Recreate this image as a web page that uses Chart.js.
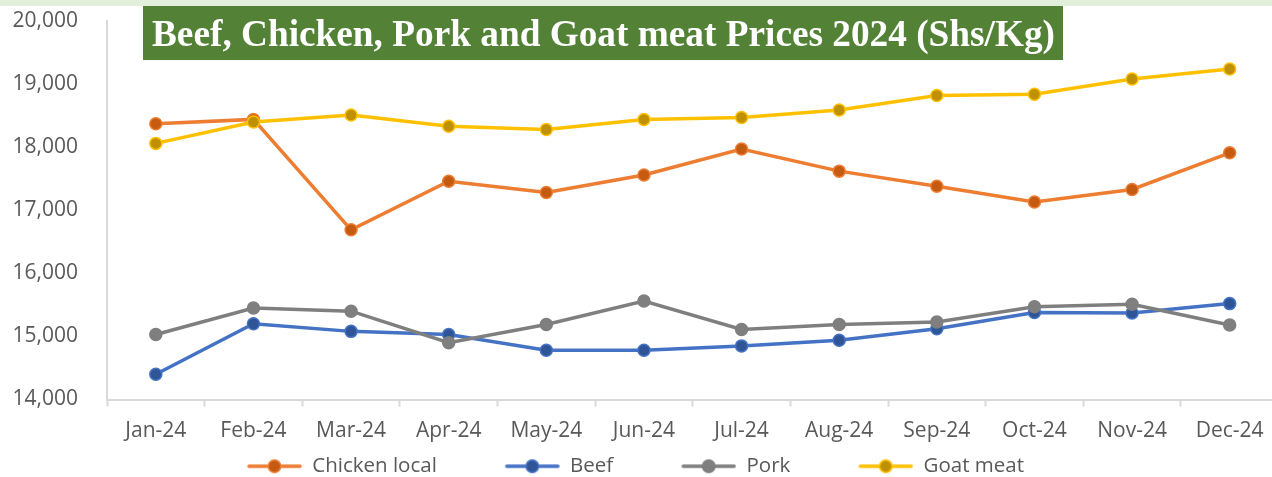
<!DOCTYPE html>
<html>
<head>
<meta charset="utf-8">
<title>Meat Prices 2024</title>
<script src="https://cdn.jsdelivr.net/npm/chart.js@4.4.1/dist/chart.umd.min.js"></script>
<style>
    html, body { margin: 0; padding: 0; background: #fff; overflow: hidden; }
    #wrap { position: relative; width: 1286px; height: 477px; }
</style>
</head>
<body>
<div id="wrap"><canvas id="meatChart"></canvas></div>
<script>
// ---- data (Shs/Kg) ----
const months = ['Jan-24', 'Feb-24', 'Mar-24', 'Apr-24', 'May-24', 'Jun-24',
                'Jul-24', 'Aug-24', 'Sep-24', 'Oct-24', 'Nov-24', 'Dec-24'];
const chickenLocal = [18370, 18440, 16690, 17460, 17280, 17560, 17970, 17620, 17380, 17130, 17330, 17910];
const beef         = [14400, 15200, 15080, 15030, 14780, 14780, 14850, 14940, 15120, 15380, 15370, 15520];
const pork         = [15030, 15450, 15400, 14900, 15190, 15560, 15110, 15190, 15230, 15470, 15510, 15180];
const goatMeat     = [18060, 18400, 18510, 18330, 18280, 18440, 18470, 18590, 18820, 18840, 19080, 19240];
const yTicks = [14000, 15000, 16000, 17000, 18000, 19000, 20000];
const chartTitle = 'Beef, Chicken, Pork and Goat meat Prices 2024 (Shs/Kg)';

const TEXT = '#595959';
const AXIS = '#D9D9D9';
const LEG_PAD = 2;    // legend label padding
const LEG_GAP = 66;   // blank space in front of each legend icon

// Excel style legend icon: short line with a marker in the middle
function legendIcon(line, fill) {
    const c = document.createElement('canvas');
    c.width = LEG_GAP + 55;
    c.height = 16;
    const ctx = c.getContext('2d');
    ctx.strokeStyle = line;
    ctx.lineWidth = 3.5;
    ctx.lineCap = 'round';
    ctx.beginPath();
    ctx.moveTo(LEG_GAP + 2, 8);
    ctx.lineTo(LEG_GAP + 53, 8);
    ctx.stroke();
    ctx.beginPath();
    ctx.arc(LEG_GAP + 27.5, 8, 6.2, 0, Math.PI * 2);
    ctx.fillStyle = fill;
    ctx.fill();
    ctx.lineWidth = 1.5;
    ctx.stroke();
    return c;
}

function series(label, data, line, fill, order) {
    return {
        label: label,
        data: data,
        borderColor: line,
        backgroundColor: fill,
        borderWidth: 3.5,
        pointRadius: 6,
        pointBorderWidth: 1.5,
        pointBackgroundColor: fill,
        pointBorderColor: line,
        tension: 0,
        order: order,
        legendIcon: legendIcon(line, fill)
    };
}

// green title banner + thin band at the very top
const titleBanner = {
    id: 'titleBanner',
    beforeDraw(chart) {
        const ctx = chart.ctx;
        ctx.save();
        ctx.fillStyle = '#E2EFDA';
        ctx.fillRect(0, 0, chart.width, 6);
        ctx.restore();
    },
    afterDraw(chart) {
        const ctx = chart.ctx;
        ctx.save();
        ctx.fillStyle = '#538135';
        ctx.fillRect(143, 6, 920, 54);
        ctx.fillStyle = '#FFFFFF';
        ctx.font = 'bold 38px "Liberation Serif", "Times New Roman", serif';
        ctx.textBaseline = 'alphabetic';
        ctx.fillText(chartTitle, 152, 46, 903);
        ctx.restore();
    }
};

// put the legend row where the reference has it
const legendPlace = {
    id: 'legendPlace',
    afterLayout(chart) {
        const lg = chart.legend;
        if (!lg) return;
        const w = lg.right - lg.left;
        lg.left = 247 - LEG_GAP - LEG_PAD;
        lg.right = lg.left + w;
        const h = lg.bottom - lg.top;
        lg.top = 466 - LEG_PAD - 10;
        lg.bottom = lg.top + h;
    }
};

new Chart(document.getElementById('meatChart'), {
    type: 'line',
    data: {
        labels: months,
        datasets: [
            series('Chicken local', chickenLocal, '#ED7D31', '#C55A11', 4),
            series('Beef', beef, '#4472C4', '#2F5597', 3),
            series('Pork', pork, '#7F7F7F', '#7F7F7F', 2),
            series('Goat meat', goatMeat, '#FFC000', '#BF9000', 1)
        ]
    },
    options: {
        responsive: true,
        maintainAspectRatio: false,
        animation: false,
        layout: { padding: { top: 21, left: 0, right: 0, bottom: 0 } },
        plugins: {
            tooltip: { enabled: false },
            legend: {
                position: 'bottom',
                align: 'start',
                labels: {
                    usePointStyle: true,
                    pointStyleWidth: LEG_GAP + 55,
                    padding: LEG_PAD,
                    color: TEXT,
                    font: { family: '"Open Sans", sans-serif', size: 20.5 },
                    sort: (a, b) => a.datasetIndex - b.datasetIndex,
                    generateLabels(chart) {
                        const items = Chart.defaults.plugins.legend.labels.generateLabels(chart);
                        items.forEach(it => {
                            it.pointStyle = chart.data.datasets[it.datasetIndex].legendIcon;
                        });
                        return items;
                    }
                }
            }
        },
        scales: {
            x: {
                offset: true,
                afterFit(scale) { scale.height = 45; },
                grid: {
                    offset: true,
                    drawOnChartArea: false,
                    drawTicks: true,
                    tickLength: 7,
                    tickWidth: 2,
                    tickColor: AXIS,
                    color: AXIS
                },
                border: { display: true, color: AXIS, width: 2 },
                ticks: {
                    color: TEXT,
                    padding: 12,
                    maxRotation: 0,
                    font: { family: '"Open Sans", sans-serif', size: 21 }
                }
            },
            y: {
                min: yTicks[0],
                max: yTicks[yTicks.length - 1],
                afterFit(scale) { scale.width = 107; },
                afterBuildTicks(scale) { scale.ticks = yTicks.map(v => ({ value: v })); },
                // invisible tick marks give the gap between labels and axis line
                grid: {
                    display: true,
                    drawOnChartArea: false,
                    drawTicks: true,
                    tickLength: 29,
                    tickColor: 'rgba(0,0,0,0)'
                },
                border: { display: true, color: AXIS, width: 2 },
                ticks: {
                    color: TEXT,
                    padding: 0,
                    font: { family: '"Open Sans", sans-serif', size: 21 },
                    callback: v => v.toLocaleString('en-US')
                }
            }
        }
    },
    plugins: [titleBanner, legendPlace]
});
</script>
</body>
</html>
